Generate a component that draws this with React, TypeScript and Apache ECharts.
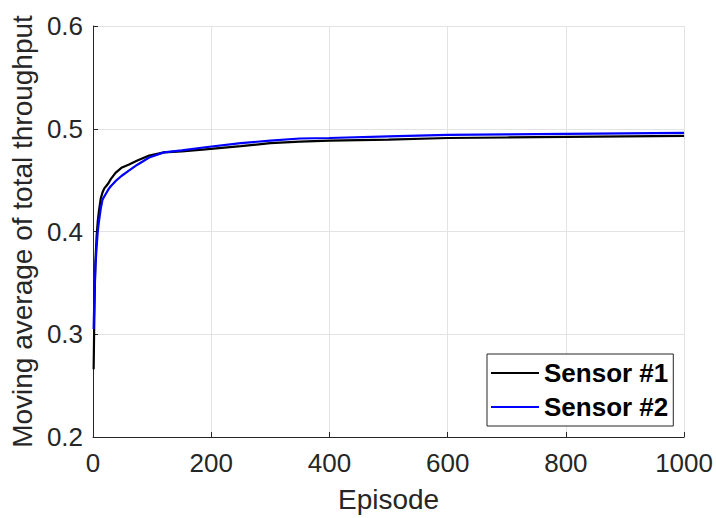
import React, { useEffect, useRef } from "react";
import * as echarts from "echarts";

const episodes = [1, 2, 3, 4, 6, 8, 10, 13, 16, 19, 22, 26, 30, 38, 48, 60, 75, 95, 120, 150, 190, 250, 300, 350, 400, 500, 600, 700, 800, 900, 1000];
const sensor1 = [0.266, 0.31, 0.345, 0.37, 0.395, 0.41, 0.42, 0.432, 0.438, 0.442, 0.444, 0.447, 0.451, 0.457, 0.462, 0.465, 0.469, 0.474, 0.477, 0.478, 0.48, 0.483, 0.486, 0.4875, 0.4885, 0.4895, 0.491, 0.4915, 0.492, 0.4925, 0.493];
const sensor2 = [0.305, 0.33, 0.35, 0.365, 0.385, 0.4, 0.41, 0.422, 0.431, 0.434, 0.437, 0.441, 0.444, 0.449, 0.454, 0.459, 0.465, 0.472, 0.477, 0.479, 0.482, 0.486, 0.4885, 0.4905, 0.491, 0.4925, 0.494, 0.4945, 0.495, 0.4955, 0.496];
const seriesNames = ["Sensor #1", "Sensor #2"];
const xTitle = "Episode";
const yTitle = "Moving average of total throughput";

const FONT = "'Liberation Sans', Arial, Helvetica, sans-serif";
const AXIS = "#262626";

export default function App() {
  const ref = useRef<HTMLDivElement>(null);
  useEffect(() => {
    if (!ref.current) return;
    const chart = echarts.init(ref.current, undefined, { renderer: "svg" });
    chart.setOption({
      animation: false,
      backgroundColor: "#ffffff",
      textStyle: { fontFamily: FONT },
      grid: { left: 92, right: 30, top: 26, bottom: 79, containLabel: false },
      legend: {
        orient: "vertical",
        left: 487,
        top: 354,
        padding: [6, 5, 6, 4],
        itemGap: 8,
        itemWidth: 48,
        itemHeight: 2,
        icon: "rect",
        borderColor: AXIS,
        borderWidth: 1,
        backgroundColor: "#ffffff",
        textStyle: { fontFamily: FONT, fontSize: 26, fontWeight: "bold", color: "#000000" },
        data: seriesNames,
      },
      xAxis: {
        type: "value",
        min: 0,
        max: 1000,
        interval: 200,
        name: xTitle,
        nameLocation: "middle",
        nameGap: 48,
        nameTextStyle: { fontFamily: FONT, fontSize: 28, color: AXIS },
        axisLine: { show: true, onZero: false, lineStyle: { color: AXIS, width: 1 } },
        axisTick: { show: true, inside: true, length: 5, lineStyle: { color: AXIS } },
        axisLabel: { fontFamily: FONT, fontSize: 26, color: AXIS, margin: 13, formatter: (v: number) => String(v) },
        splitLine: { show: true, lineStyle: { color: "#e3e3e3", width: 1 } },
      },
      yAxis: {
        type: "value",
        min: 0.2,
        max: 0.6,
        interval: 0.1,
        name: yTitle,
        nameLocation: "middle",
        nameGap: 50,
        nameTextStyle: { fontFamily: FONT, fontSize: 28, color: AXIS },
        axisLine: { show: true, onZero: false, lineStyle: { color: AXIS, width: 1 } },
        axisTick: { show: true, inside: true, length: 5, lineStyle: { color: AXIS } },
        axisLabel: { fontFamily: FONT, fontSize: 26, color: AXIS, margin: 10, formatter: (v: number) => v.toFixed(1) },
        splitLine: { show: true, lineStyle: { color: "#e3e3e3", width: 1 } },
      },
      series: [
        {
          name: seriesNames[0],
          type: "line",
          data: episodes.map((e, i) => [e, sensor1[i]]),
          showSymbol: false,
          symbol: "none",
          lineStyle: { color: "#000000", width: 2.2 },
          itemStyle: { color: "#000000" },
        },
        {
          name: seriesNames[1],
          type: "line",
          data: episodes.map((e, i) => [e, sensor2[i]]),
          showSymbol: false,
          symbol: "none",
          lineStyle: { color: "#0000ff", width: 2.2 },
          itemStyle: { color: "#0000ff" },
        },
      ],
    });
    return () => chart.dispose();
  }, []);
  return <div ref={ref} style={{ position: "absolute", left: 0, top: 0, width: 716, height: 518 }} />;
}
